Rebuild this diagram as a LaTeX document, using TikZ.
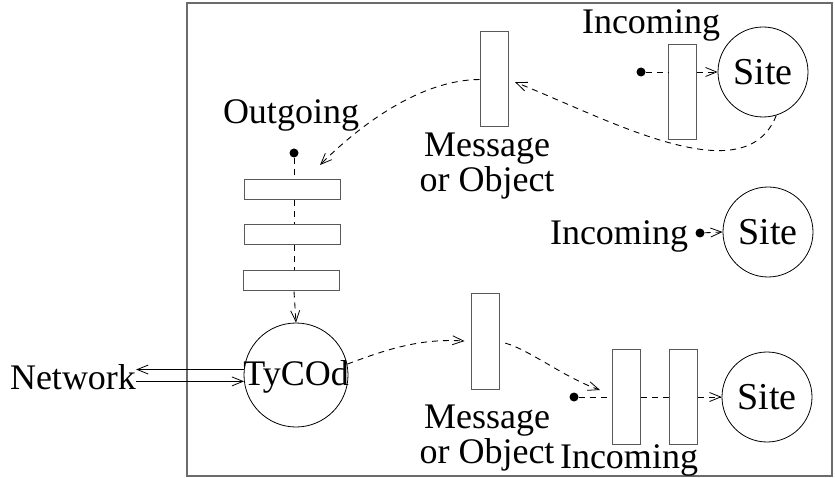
\documentclass[tikz,border=0pt]{standalone}
\usepackage{fontspec}
\setmainfont{Liberation Serif}
\usetikzlibrary{arrows.meta,calc}
\definecolor{framegray}{gray}{0.42}
\definecolor{boxgray}{gray}{0.35}
\begin{document}
\begin{tikzpicture}[x=1pt,y=-1pt,
  lbl/.style={inner sep=0pt, font=\fontsize{36}{40}\selectfont},
  sitelbl/.style={inner sep=0pt, font=\fontsize{38}{42}\selectfont},
  site/.style={circle, draw, inner sep=0pt, line width=0.8pt},
  vbox/.style={rectangle, draw=boxgray, fill=white, inner sep=0pt, line width=1pt,
               minimum width=28pt, minimum height=95pt},
  hbox/.style={rectangle, draw=boxgray, fill=white, inner sep=0pt, line width=1pt,
               minimum width=96pt, minimum height=20pt},
  dot/.style={circle, fill, inner sep=0pt, minimum size=9pt},
  flow/.style={dash pattern=on 6pt off 5pt, line width=0.9pt},
  tip/.style={-{Straight Barb[length=11pt,width=9pt,line width=0.8pt]}},
  wire/.style={line width=0.8pt}]
\useasboundingbox (0,0) rectangle (835,478);

% enclosing host
\draw[framegray, line width=1.6pt] (187,3) rectangle (832,476);

% --- upper site with its incoming queue
\node[site, minimum size=90pt] (siteA) at (763,72) {};
\node[sitelbl] at (siteA) {Site};
\node[vbox] (qA) at (682.5,92.5) {};
\node[dot] (dotA) at (641,72) {};
\node[lbl, anchor=base] (inA) at (651,34) {Incoming};
\draw[flow] (dotA) -- (qA.west |- dotA);
\draw[flow, tip] (qA.east |- dotA) -- (siteA.west);

% --- message travelling to the outgoing queue
\node[vbox] (msgA) at (494,79.5) {};
\node[lbl, anchor=base] (msgA1) at (487,157) {Message};
\node[lbl, anchor=base] (msgA2) at (487,192) {or Object};
\draw[flow, tip, shorten >=7pt] (siteA.287) .. controls (745,195) and (610,120) .. (msgA.east);
\coordinate (outIn) at (320,165);
\draw[flow, tip] (msgA.west) .. controls (420,80) and (360,125) .. (outIn);

% --- outgoing queue of the daemon
\node[lbl, anchor=base] (outL) at (291,124) {Outgoing};
\node[dot] (dotO) at (294,153) {};
\node[hbox] (o1) at (292,190) {};
\node[hbox] (o2) at (292,235) {};
\node[hbox] (o3) at (291,281) {};
\node[site, minimum size=104pt] (tycod) at (296,375) {};
\node[lbl] at (296,377) {TyCOd};
\draw[flow] (dotO) -- (dotO |- o1.north);
\draw[flow] (dotO |- o1.south) -- (dotO |- o2.north);
\draw[flow] (dotO |- o2.south) -- (dotO |- o3.north);
\draw[flow, tip] (dotO |- o3.south) -- (tycod.north);

% --- network link
\node[lbl, anchor=base] (net) at (73,389) {Network};
\draw[wire, tip] (tycod.174.5) -- (tycod.174.5 -| net.east);
\draw[wire, tip] (tycod.187.7 -| net.east) -- (tycod.187.7);

% --- middle site
\node[site, minimum size=90pt] (siteB) at (768,232) {};
\node[sitelbl] at (siteB) {Site};
\node[dot] (dotB) at (700,233) {};
\node[lbl, anchor=base] (inB) at (619,245) {Incoming};
\draw[flow, tip] (dotB) -- (siteB.west);

% --- message delivered to the lower site
\node[vbox] (msgB) at (485,341.5) {};
\node[lbl, anchor=base] (msgB1) at (487,428) {Message};
\node[lbl, anchor=base] (msgB2) at (487,463) {or Object};
\draw[flow, tip, shorten >=6pt] (tycod.12) .. controls (385,350) and (420,338) .. (msgB.west);
\coordinate (inC) at (600,390);
\draw[flow, tip, shorten <=6pt] (msgB.east) .. controls (530,350) and (565,378) .. (inC);

% --- lower site with its incoming queue
\node[site, minimum size=90pt] (siteC) at (767,397) {};
\node[sitelbl] at (siteC) {Site};
\node[vbox] (c1) at (626,396.5) {};
\node[vbox] (c2) at (683.5,396.5) {};
\node[dot] (dotC) at (574,397) {};
\node[lbl, anchor=base] (inC1) at (629,468) {Incoming};
\draw[flow] (dotC) -- (c1.west |- dotC);
\draw[flow] (c1.east |- dotC) -- (c2.west |- dotC);
\draw[flow, tip] (c2.east |- dotC) -- (siteC.west);
\end{tikzpicture}
\end{document}
